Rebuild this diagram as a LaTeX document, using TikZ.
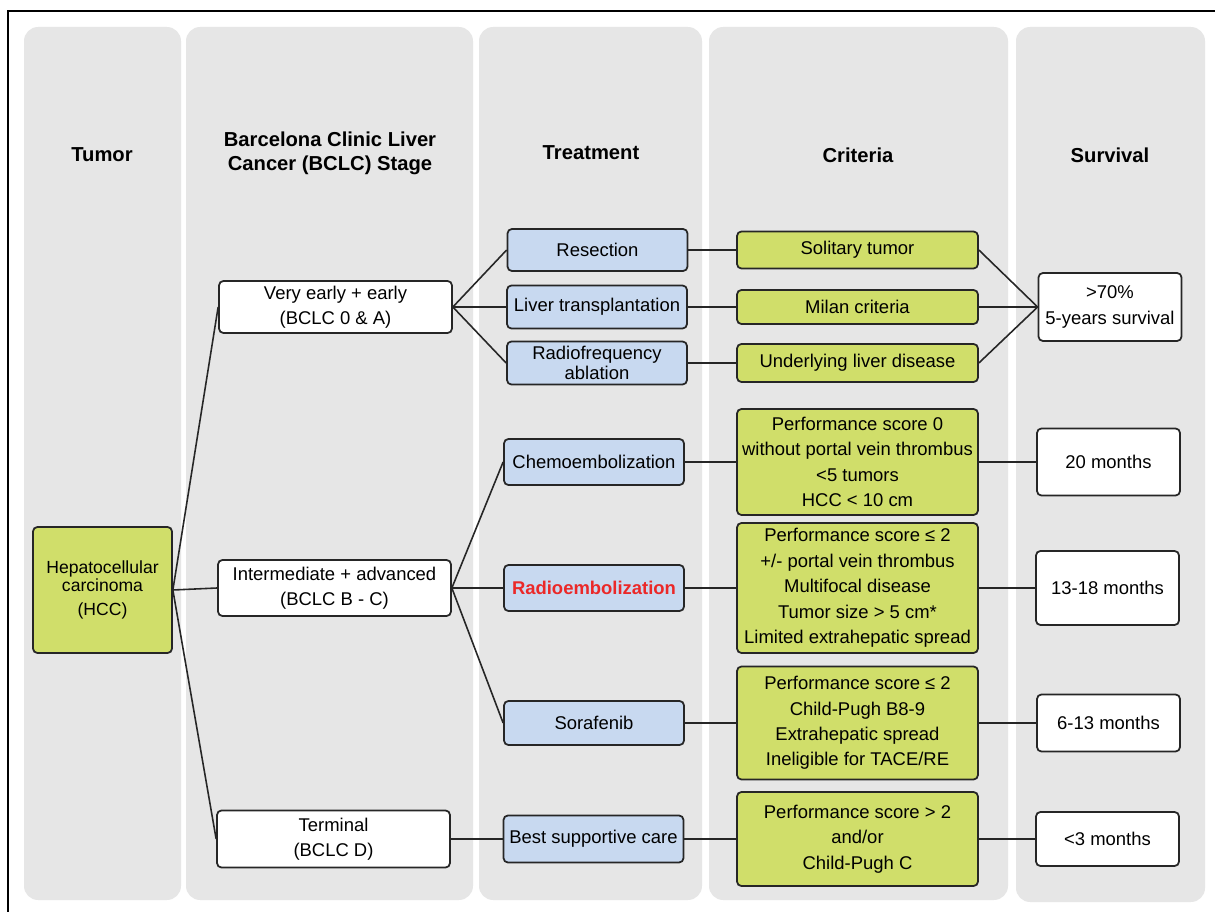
\documentclass[tikz,border=0pt]{standalone}
\usepackage{fontspec}
\setmainfont{Liberation Sans}
\usepackage{tikz}
\usetikzlibrary{positioning}
\definecolor{ColGrau}{RGB}{230,230,230}
\definecolor{BoxBlau}{RGB}{200,217,240}
\definecolor{BoxGruen}{RGB}{208,222,106}
\definecolor{TextRot}{RGB}{235,40,40}

\begin{document}
\begin{tikzpicture}[x=0.02cm, y=-0.02cm,
    column/.style={fill=ColGrau, rounded corners=8pt},
    head/.style={font=\fontsize{11.5}{13.5}\selectfont\bfseries, align=center},
    box/.style={draw=black!85, line width=1pt, rounded corners=2.5pt, align=center, inner sep=1pt,
                font=\fontsize{10.5}{14.5}\selectfont},
    stage/.style={box, fill=white, minimum width=4.66cm},
    treat/.style={box, fill=BoxBlau, minimum width=3.6cm},
    crit/.style={box, fill=BoxGruen, minimum width=4.82cm},
    surv/.style={box, fill=white, minimum width=2.86cm},
    link/.style={line width=0.9pt, black!85}]
    \useasboundingbox (0,0) rectangle (1215,912);
    \fill[white] (0,0) rectangle (1215,912);
    \draw[line width=1.6pt] (8,920) -- (8,11) -- (1225,11);

    % columns
    \fill[column] (24,27)   rectangle (181,900);
    \fill[column] (186,27)  rectangle (473,900);
    \fill[column] (479,27)  rectangle (702,900);
    \fill[column] (709,27)  rectangle (1008,900);
    \fill[column] (1016,27) rectangle (1205,902);

    \node[head] (hTumor)  at (102,155)  {Tumor};
    \node[head] (hStage)  at (330,153)  {Barcelona Clinic Liver\\Cancer (BCLC) Stage};
    \node[head] (hTreat)  at (591,153)  {Treatment};
    \node[head] (hCrit)   at (858,155)  {Criteria};
    \node[head] (hSurv)   at (1110,155) {Survival};

    % tumor
    \node[box, fill=BoxGruen, minimum width=2.78cm, minimum height=2.52cm,
          font=\fontsize{10}{14}\selectfont] (hcc) at (102.5,590)
        {Hepatocellular\\[-4pt]carcinoma\\(HCC)};

    % stages
    \node[stage, minimum height=1.04cm] (early) at (335.5,307) {Very early + early\\(BCLC 0 \& A)};
    \node[stage, minimum height=1.12cm] (inter) at (334.5,588) {Intermediate + advanced\\(BCLC B - C)};
    \node[stage, minimum height=1.14cm] (term)  at (333.5,839) {Terminal\\(BCLC D)};

    % treatments
    \node[treat, minimum height=0.84cm] (res)   at (597.5,250) {Resection};
    \node[treat, minimum height=0.86cm] (ltx)   at (597,307) {Liver transplantation};
    \node[treat, minimum height=0.86cm] (rfa)   at (597,363) {Radiofrequency\\[-3pt]ablation};
    \node[treat, minimum height=0.92cm] (chemo) at (594,462) {Chemoembolization};
    \node[treat, minimum height=0.92cm] (radio) at (594,588) {\textcolor{TextRot}{\bfseries Radioembolization}};
    \node[treat, minimum height=0.88cm] (sora)  at (594,723) {Sorafenib};
    \node[treat, minimum height=0.94cm] (bsc)   at (593.5,839) {Best supportive care};

    % criteria
    \node[crit, minimum height=0.74cm] (cSol)   at (857.5,250) {Solitary tumor};
    \node[crit, minimum height=0.68cm] (cMilan) at (857.5,307) {Milan criteria};
    \node[crit, minimum height=0.76cm] (cLiver) at (857.5,363) {Underlying liver disease};
    \node[crit, minimum height=2.12cm] (cChemo) at (857.5,462)
        {Performance score 0\\without portal vein thrombus\\<5 tumors\\HCC < 10 cm};
    \node[crit, minimum height=2.6cm] (cRadio) at (857.5,588)
        {Performance score ≤ 2\\+/- portal vein thrombus\\Multifocal disease\\Tumor size > 5 cm*\\Limited extrahepatic spread};
    \node[crit, minimum height=2.26cm] (cSora) at (857.5,723)
        {Performance score ≤ 2\\Child-Pugh B8-9\\Extrahepatic spread\\Ineligible for TACE/RE};
    \node[crit, minimum height=1.88cm] (cBsc) at (857.5,839)
        {Performance score > 2\\and/or\\Child-Pugh C};

    % survival
    \node[surv, minimum height=1.36cm] (s70)  at (1110,307)    {>70\%\\5-years survival};
    \node[surv, minimum height=1.34cm] (s20)  at (1108.5,462)   {20 months};
    \node[surv, minimum height=1.48cm] (s13)  at (1107.5,588)   {13-18 months};
    \node[surv, minimum height=1.14cm] (s6)   at (1108.5,723)   {6-13 months};
    \node[surv, minimum height=1.08cm] (s3)   at (1107.5,839)   {<3 months};

    % connectors
    \draw[link] (hcc.east) -- (early.west);
    \draw[link] (hcc.east) -- (inter.west);
    \draw[link] (hcc.east) -- (term.west);
    \draw[link] (early.east) -- (res.west);
    \draw[link] (early.east) -- (ltx.west);
    \draw[link] (early.east) -- (rfa.west);
    \draw[link] (inter.east) -- (chemo.west);
    \draw[link] (inter.east) -- (radio.west);
    \draw[link] (inter.east) -- (sora.west);
    \draw[link] (term.east) -- (bsc.west);
    \draw[link] (res.east) -- (cSol.west);
    \draw[link] (ltx.east) -- (cMilan.west);
    \draw[link] (rfa.east) -- (cLiver.west);
    \draw[link] (chemo.east) -- (cChemo.west);
    \draw[link] (radio.east) -- (cRadio.west);
    \draw[link] (sora.east) -- (cSora.west);
    \draw[link] (bsc.east) -- (cBsc.west);
    \draw[link] (cSol.east) -- (s70.west);
    \draw[link] (cMilan.east) -- (s70.west);
    \draw[link] (cLiver.east) -- (s70.west);
    \draw[link] (cChemo.east) -- (s20.west);
    \draw[link] (cRadio.east) -- (s13.west);
    \draw[link] (cSora.east) -- (s6.west);
    \draw[link] (cBsc.east) -- (s3.west);
\end{tikzpicture}
\end{document}
